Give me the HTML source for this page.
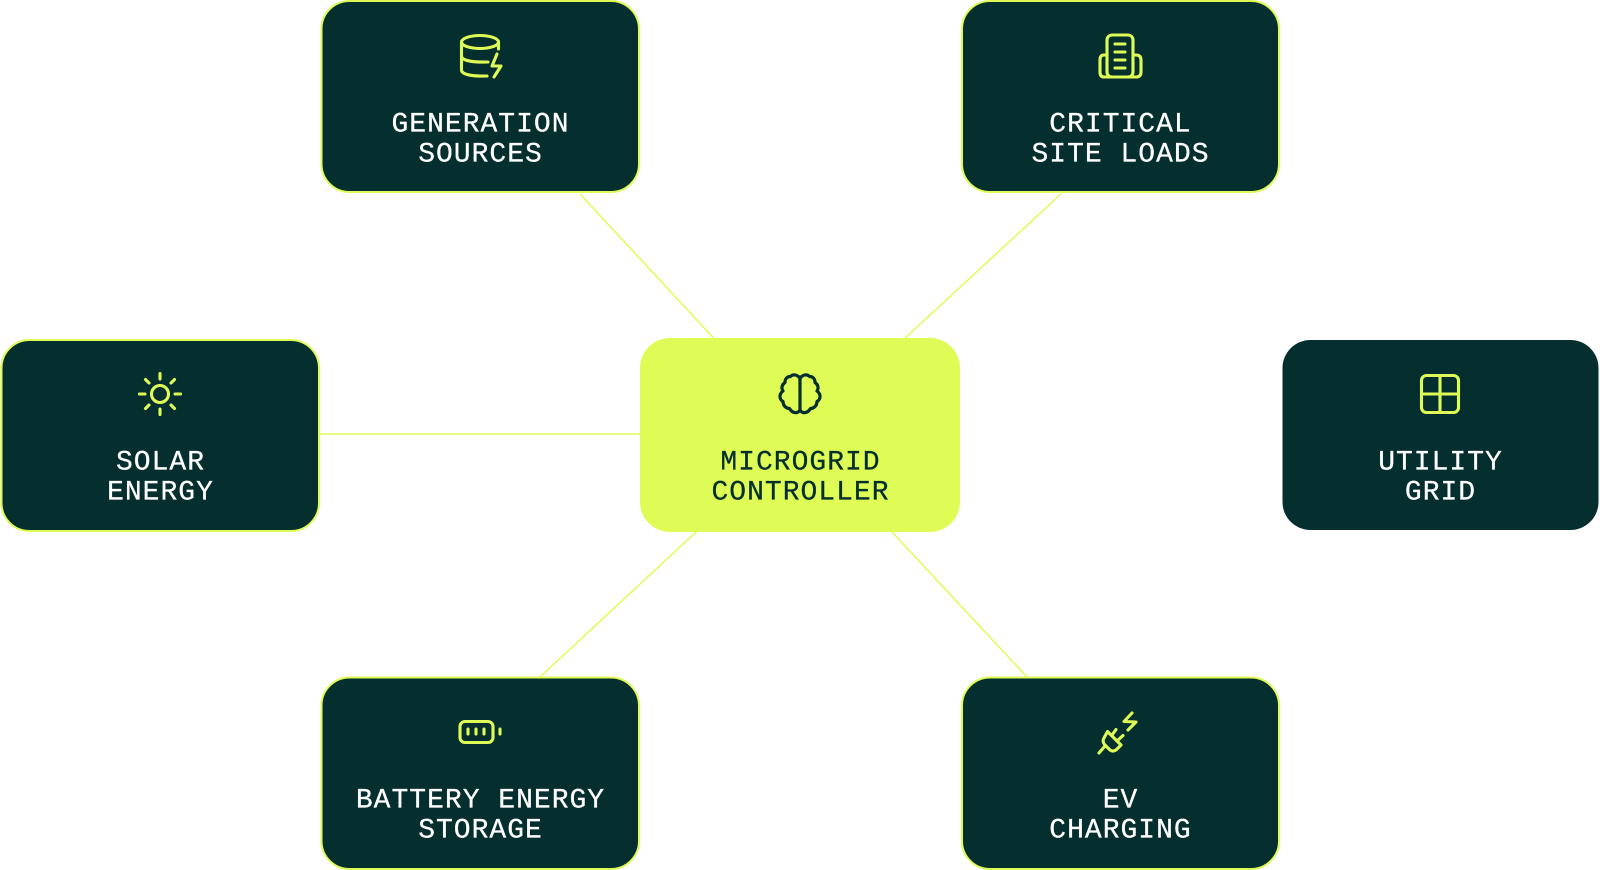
<!DOCTYPE html>
<html lang="en">
<head>
<meta charset="utf-8">
<title>Microgrid Controller</title>
<style>
html,body{margin:0;padding:0;background:#fff;width:1600px;height:870px;overflow:hidden}
svg{display:block}
text{font-family:"Liberation Mono",monospace;font-size:28px;letter-spacing:1px;text-anchor:middle;fill:#fff;stroke:#fff;stroke-width:.25px}
.i{fill:none;stroke:#DEFC55;stroke-width:3.100;stroke-linecap:round;stroke-linejoin:round}
.c{fill:#052E2F;stroke:#DEFC55;stroke-width:2}
.l{stroke:#DEFC55;stroke-width:1.5;fill:none}
</style>
</head>
<body>
<svg width="1600" height="870" viewBox="0 0 1600 870" xmlns="http://www.w3.org/2000/svg">
<!-- connectors -->
<path class="l" d="M580 194L714.500 339"/>
<path class="l" d="M1061 194L904 339"/>
<path class="l" d="M320 434H640"/>
<path class="l" d="M696 532L539 678"/>
<path class="l" d="M892 532L1028 678"/>

<!-- cards -->
<rect class="c" x="321.500" y="1" width="317.500" height="191" rx="28"/>
<rect class="c" x="962" y="1" width="317" height="191" rx="28"/>
<rect class="c" x="1.500" y="340" width="317.500" height="191" rx="28"/>
<rect x="640" y="338" width="320" height="194" rx="30" fill="#DEFC55"/>
<rect x="1282.500" y="340" width="316" height="190" rx="28" fill="#052E2F"/>
<rect class="c" x="321.500" y="677.500" width="317.500" height="191.500" rx="28"/>
<rect class="c" x="962" y="677.500" width="317" height="191.500" rx="28"/>

<!-- generation icon -->
<g class="i" transform="translate(0 0)">
<ellipse cx="480" cy="42" rx="18.500" ry="6.500"/>
<path d="M498.500 42V49M461.500 42V70C461.500 74 470 76.500 487 76M461.500 56C461.500 60 470 62.500 488 62"/>
<path d="M497 54L492 66H501L494 77"/>
</g>
<!-- critical icon -->
<g class="i">
<rect x="1107" y="35" width="26" height="42" rx="5"/>
<path d="M1107 55H1104Q1100 55 1100 60V72Q1100 77 1104 77H1136Q1141 77 1141 72V60Q1141 55 1136 55H1133"/>
<path d="M1115 44H1125M1115 52H1125M1115 60H1125M1115 68H1125"/>
</g>
<!-- sun icon -->
<g class="i">
<circle cx="160" cy="394" r="8.500"/>
<path d="M160 373.500V379M160 409V414.500M139.500 394H145M175 394H180.500M145.500 379.500L149 383M171 405L174.500 408.500M145.500 408.500L149 405M171 383L174.500 379.500"/>
</g>
<!-- brain icon -->
<g fill="none" stroke="#052E2F" stroke-width="3.200" stroke-linecap="round" stroke-linejoin="round" transform="translate(-.5 1)">
<path d="M800.500 378C802 374 807 372.500 810 375.500C813.500 375.500 815.500 378 815.500 381.500C818.500 383.500 819.500 387 817.500 390C821.500 393 821.500 398 817.500 400.500C817.500 404.500 814.500 407.500 811 407.500C808 412.500 803 413 800.500 409"/>
<path d="M800.500 378C799 374 794 372.500 791 375.500C787.500 375.500 785.500 378 785.500 381.500C782.500 383.500 781.500 387 783.500 390C779.500 393 779.500 398 783.500 400.500C783.500 404.500 786.500 407.500 790 407.500C793 412.500 798 413 800.500 409"/>
<path d="M800.500 378V409"/>
</g>
<!-- grid icon -->
<g class="i" transform="translate(-.5 -.5)">
<rect x="1422" y="376" width="37" height="37" rx="5"/>
<path d="M1440.500 376V413M1422 394.500H1459"/>
</g>
<!-- battery icon -->
<g class="i" transform="translate(0 -.5)">
<rect x="460" y="722" width="33" height="21" rx="5"/>
<path d="M468 729.500V734.500M476 729.500V734.500M484 729.500V734.500M500 729.500V734.500"/>
</g>
<!-- plug icon -->
<g class="i">
<path d="M1132 713L1124 721.500L1136 722L1128 730"/>
<path d="M1107.500 731.500L1121 745L1116 750Q1113 752 1110 750L1104.500 744.500Q1102 741 1104 738Z"/>
<path d="M1099 753L1105 746M1112 735L1116 729.500M1117 741L1123 735.500"/>
</g>

<!-- labels -->
<g>
<text x="480.500" y="131.500">GENERATION</text>
<text x="480.500" y="161.500">SOURCES</text>
<text x="1120.500" y="131.500">CRITICAL</text>
<text x="1120.500" y="161.500">SITE LOADS</text>
<text x="160.500" y="469.500">SOLAR</text>
<text x="160.500" y="499.500">ENERGY</text>
<text x="800.500" y="469.500" style="fill:#052E2F;stroke:#052E2F">MICROGRID</text>
<text x="800.500" y="499.500" style="fill:#052E2F;stroke:#052E2F">CONTROLLER</text>
<text x="1440.500" y="469.500">UTILITY</text>
<text x="1440.500" y="499.500">GRID</text>
<text x="480.500" y="807.500">BATTERY ENERGY</text>
<text x="480.500" y="837.500">STORAGE</text>
<text x="1120.500" y="807.500">EV</text>
<text x="1120.500" y="837.500">CHARGING</text>
</g>
</svg>
</body>
</html>
